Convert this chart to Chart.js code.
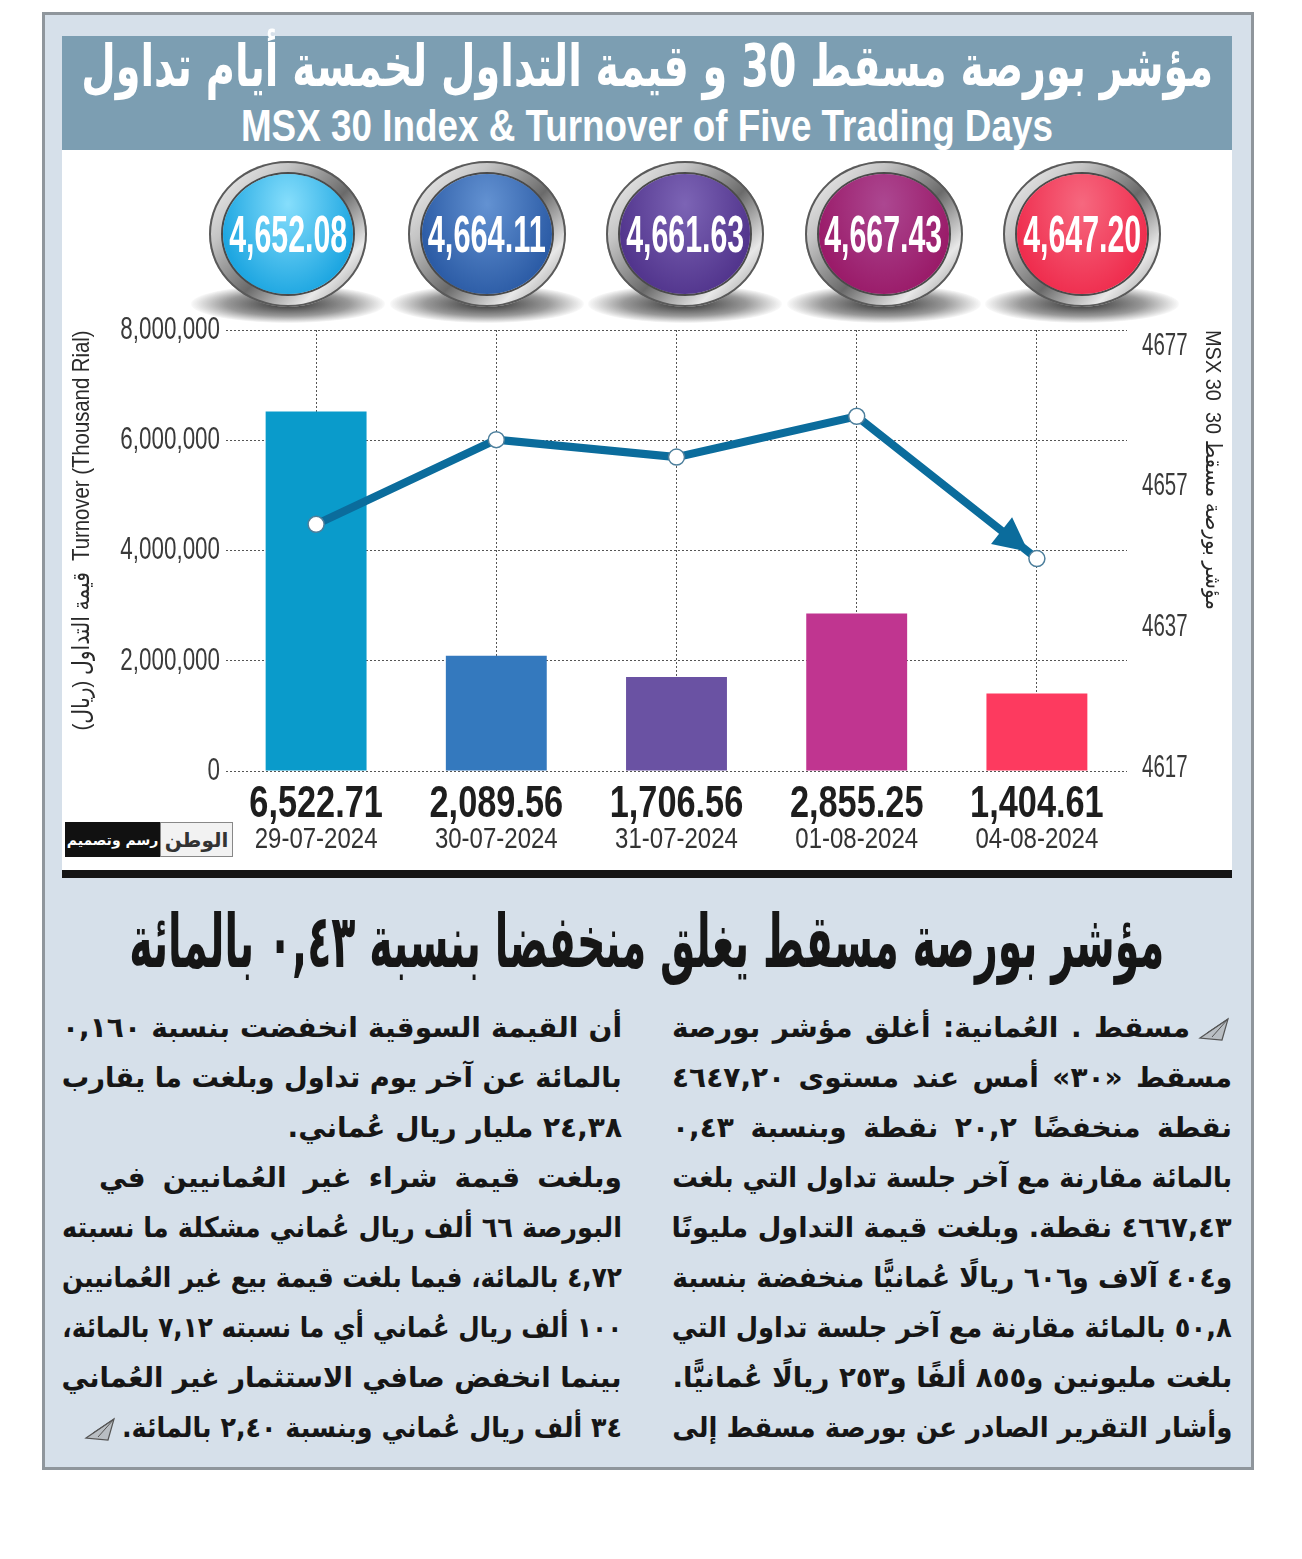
<!DOCTYPE html>
<html lang="ar">
<head>
<meta charset="utf-8">
<title>MSX 30 Index & Turnover of Five Trading Days</title>
<script src="https://cdn.jsdelivr.net/npm/chart.js@4.4.1/dist/chart.umd.min.js"></script>
<style>
  html, body { margin: 0; padding: 0; background: #fff; }
  #page { position: relative; width: 1302px; height: 1559px; overflow: hidden; }
  .abs { position: absolute; }
  #frame { left: 42px; top: 12px; width: 1212px; height: 1458px; box-sizing: border-box;
           border: 3px solid #8f969c; background: #d6e0ea; }
  #header { left: 62px; top: 36px; width: 1170px; height: 114px; background: #7c9eb2; }
  .fit { white-space: nowrap; }
  .fit span { position: absolute; top: 0; display: inline-block; white-space: nowrap; transform-origin: center center; }
  #titleAr { left: 62px; top: 32px; width: 1170px; height: 74px; color: #fff; font: bold 58px "DejaVu Sans", sans-serif; direction: rtl; }
  #titleEn { left: 62px; top: 101px; width: 1170px; height: 50px; color: #fff; font: bold 44px "Liberation Sans", "Arial", sans-serif; }
  #panel { left: 62px; top: 150px; width: 1170px; height: 720px; background: #fff; }
  #blackbar { left: 62px; top: 870px; width: 1170px; height: 8px; background: #151515; }
  .btn { width: 158px; height: 146px; }
  .btn .shadow { position: absolute; left: -18px; top: 124px; width: 194px; height: 38px; border-radius: 50%;
           background: radial-gradient(ellipse at center, rgba(30,30,30,0.9) 0%, rgba(70,70,70,0.55) 45%, rgba(255,255,255,0) 72%); }
  .btn .ring { position: absolute; left: 0; top: 0; width: 158px; height: 146px; border-radius: 50%;
           background: linear-gradient(135deg, #fbfbfb 0%, #c4c4c4 28%, #6a6a6a 55%, #e8e8e8 78%, #7d7d7d 100%);
           box-shadow: inset 0 0 0 2px #5a5a5a; }
  .btn .face { position: absolute; left: 14px; top: 13px; width: 130px; height: 120px; border-radius: 50%;
           box-shadow: 0 0 0 2px #4a4a4a; display: flex; align-items: center; justify-content: center; }
  .btn .face span { display: inline-block; color: #fff; font: bold 52px "Liberation Sans", "Arial", sans-serif;
           white-space: nowrap; }
  #logo { left: 65px; top: 822px; width: 168px; height: 35px; display: flex; }
  #logo .l1 { width: 95px; height: 35px; background: #111; color: #fff; font: bold 14px "DejaVu Sans", sans-serif; white-space: nowrap;
           display: flex; align-items: center; justify-content: center; direction: rtl; }
  #logo .l2 { width: 71px; height: 33px; background: #f2f2f2; border: 1px solid #888; color: #333; white-space: nowrap;
           font: bold 20px "DejaVu Sans", sans-serif; display: flex; align-items: center; justify-content: center; direction: rtl; }
  #headline { left: 62px; top: 898px; width: 1170px; height: 110px; color: #161616; font: bold 74px "DejaVu Sans", sans-serif; direction: rtl; }
  .col { width: 560px; }
  .line { position: absolute; right: 0; height: 50px; line-height: 50px; direction: rtl; text-align: right;
          font: bold 28px "DejaVu Sans", sans-serif; color: #161616; white-space: nowrap; }
  .line span.t { display: inline-block; white-space: nowrap; transform-origin: right center; }
  .icon { display: inline-block; vertical-align: middle; }
</style>
</head>
<body>
<div id="page">
  <div id="frame" class="abs"></div>
  <div id="header" class="abs"></div>
  <div id="titleAr" class="abs fit"><span>مؤشر بورصة مسقط 30 و قيمة التداول لخمسة أيام تداول</span></div>
  <div id="titleEn" class="abs fit"><span>MSX 30 Index &amp; Turnover of Five Trading Days</span></div>
  <div id="panel" class="abs"><canvas id="chartCanvas" width="1170" height="720"></canvas></div>
  <div id="buttons"></div>
  <div id="logo" class="abs"><div class="l1">رسم وتصميم</div><div class="l2">الوطن</div></div>
  <div id="blackbar" class="abs"></div>
  <div id="headline" class="abs fit"><span>مؤشر بورصة مسقط يغلق منخفضا بنسبة ٠,٤٣ بالمائة</span></div>
  <div id="colRight" class="abs col" style="left:672px; top:1011px; height:460px;"></div>
  <div id="colLeft" class="abs col" style="left:62px; top:1011px; height:460px;"></div>
</div>

<script>
// ---- data ----
const dates = ['29-07-2024', '30-07-2024', '31-07-2024', '01-08-2024', '04-08-2024'];
const turnover = [6522.71, 2089.56, 1706.56, 2855.25, 1404.61];      // printed under the bars
const msxIndex = [4652.08, 4664.11, 4661.63, 4667.43, 4647.20];      // values in the buttons / line
const turnoverTicks = [0, 2000000, 4000000, 6000000, 8000000];
const indexTicks = [4617, 4637, 4657, 4677];
const barColors = ['#0a9bcb', '#3479be', '#6a52a3', '#c03590', '#fd3a5f'];
const faceColors = [['#86defc', '#1da6e1'], ['#6392d2', '#2c5ca6'], ['#7c64b5', '#52358d'], ['#ac4791', '#9a1b69'], ['#f6687f', '#ef2d4e']];
const leftTitle = 'قيمة التداول (ريال)  Turnover (Thousand Rial)';
const rightTitle = 'MSX 30  مؤشر بورصة مسقط 30';

const rightLines = [
    { text: 'مسقط . العُمانية: أغلق مؤشر بورصة', mode: 'justify', icon: 'start' },
    { text: 'مسقط «٣٠» أمس عند مستوى ٤٦٤٧,٢٠', mode: 'justify' },
    { text: 'نقطة منخفضًا ٢٠,٢ نقطة وبنسبة ٠,٤٣', mode: 'justify' },
    { text: 'بالمائة مقارنة مع آخر جلسة تداول التي بلغت', mode: 'justify' },
    { text: '٤٦٦٧,٤٣ نقطة. وبلغت قيمة التداول مليونًا', mode: 'justify' },
    { text: 'و٤٠٤ آلاف و٦٠٦ ريالًا عُمانيًّا منخفضة بنسبة', mode: 'justify' },
    { text: '٥٠,٨ بالمائة مقارنة مع آخر جلسة تداول التي', mode: 'justify' },
    { text: 'بلغت مليونين و٨٥٥ ألفًا و٢٥٣ ريالًا عُمانيًّا.', mode: 'justify' },
    { text: 'وأشار التقرير الصادر عن بورصة مسقط إلى', mode: 'justify' }
];
const leftLines = [
    { text: 'أن القيمة السوقية انخفضت بنسبة ٠,١٦٠', mode: 'justify' },
    { text: 'بالمائة عن آخر يوم تداول وبلغت ما يقارب', mode: 'justify' },
    { text: '٢٤,٣٨ مليار ريال عُماني.', mode: 'right' },
    { text: 'وبلغت قيمة شراء غير العُمانيين في', mode: 'justify', indent: 37 },
    { text: 'البورصة ٦٦ ألف ريال عُماني مشكلة ما نسبته', mode: 'justify' },
    { text: '٤,٧٢ بالمائة، فيما بلغت قيمة بيع غير العُمانيين', mode: 'justify' },
    { text: '١٠٠ ألف ريال عُماني أي ما نسبته ٧,١٢ بالمائة،', mode: 'justify' },
    { text: 'بينما انخفض صافي الاستثمار غير العُماني', mode: 'justify' },
    { text: '٣٤ ألف ريال عُماني وبنسبة ٢,٤٠ بالمائة.', mode: 'right', icon: 'end', maxWidth: 500 }
];

const sans = '"Liberation Sans", Arial, "DejaVu Sans", sans-serif';
const lineColor = '#0b6c9c';

const iconSvg = '<svg class="icon" width="34" height="26" viewBox="0 0 34 26"><path d="M2 22 L30 3 L24 24 Z" fill="#b9bec3" stroke="#555" stroke-width="1.2"/><path d="M30 3 L14 21 M30 3 L9 17" stroke="#555" stroke-width="1" fill="none"/></svg>';

// squeeze a one-line block to a given width, centred in its wrapper
const fitSpan = (wrapper, width) => {
    const span = wrapper.querySelector('span');
    const w = span.getBoundingClientRect().width;
    const W = wrapper.getBoundingClientRect().width;
    span.style.left = ((W - w) / 2) + 'px';
    span.style.transform = `scaleX(${width / w})`;
};

const buildLines = (col, lines) => {
    lines.forEach((ln, i) => {
        const div = document.createElement('div');
        div.className = 'line';
        div.style.top = (i * 50) + 'px';
        const indent = ln.indent || 0;
        const iconW = ln.icon === 'start' ? 42 : 0;
        const width = ln.maxWidth || (560 - indent - iconW);
        div.style.width = (560 - indent) + 'px';
        if (ln.icon === 'start') div.insertAdjacentHTML('beforeend', iconSvg + '<span style="display:inline-block;width:8px"></span>');
        const span = document.createElement('span');
        span.className = 't';
        span.textContent = ln.text;
        div.appendChild(span);
        col.appendChild(div);
        const w = span.getBoundingClientRect().width;
        let shown = w;
        if (w > width) {
            span.style.transform = `scaleX(${width / w})`;
            shown = width;
        } else if (ln.mode === 'justify') {
            const gaps = ln.text.split(' ').length - 1;
            span.style.wordSpacing = ((width - w) / gaps) + 'px';
        }
        if (ln.icon === 'end') {
            const ic = document.createElement('span');
            ic.innerHTML = iconSvg;
            ic.style.position = 'absolute';
            ic.style.right = (shown + 4) + 'px';
            ic.style.top = '0';
            div.appendChild(ic);
        }
    });
};

const buildButtons = () => {
    const holder = document.getElementById('buttons');
    msxIndex.forEach((v, i) => {
        const cx = 288 + i * 198.5;
        const b = document.createElement('div');
        b.className = 'btn abs';
        b.style.left = (cx - 79) + 'px';
        b.style.top = '161px';
        const [c1, c2] = faceColors[i];
        b.innerHTML = `<div class="shadow"></div><div class="ring"><div class="face" style="background: radial-gradient(ellipse at 50% 25%, ${c1} 0%, ${c2} 75%);"><span>${v.toLocaleString('en-US', { minimumFractionDigits: 2 })}</span></div></div>`;
        holder.appendChild(b);
        const span = b.querySelector('.face span');
        const w = span.getBoundingClientRect().width;
        span.style.transform = `scaleX(${118 / w})`;
    });
};

// condensed text helper (no narrow font installed, so squeeze horizontally)
const drawText = (ctx, text, x, y, opt) => {
    ctx.save();
    ctx.font = opt.font;
    ctx.fillStyle = opt.color || '#333';
    ctx.textBaseline = 'middle';
    ctx.textAlign = opt.align || 'center';
    ctx.translate(x, y);
    if (opt.rotate) ctx.rotate(opt.rotate);
    let sx = opt.sx || 1;
    if (opt.length) sx = opt.length / ctx.measureText(text).width;
    ctx.scale(sx, 1);
    ctx.fillText(text, 0, 0);
    ctx.restore();
};

const extrasPlugin = {
    id: 'extras',
    afterDatasetsDraw(chart) {
        // arrow head on the last segment of the index line
        const ctx = chart.ctx;
        const pts = chart.getDatasetMeta(1).data;
        const a = pts[pts.length - 2], b = pts[pts.length - 1];
        const dx = b.x - a.x, dy = b.y - a.y;
        const len = Math.hypot(dx, dy);
        const ux = dx / len, uy = dy / len;
        const tipX = b.x - ux * 11, tipY = b.y - uy * 11;
        const baseX = tipX - ux * 34, baseY = tipY - uy * 34;
        ctx.save();
        ctx.fillStyle = lineColor;
        ctx.beginPath();
        ctx.moveTo(tipX, tipY);
        ctx.lineTo(baseX - uy * 17, baseY + ux * 17);
        ctx.lineTo(baseX + uy * 17, baseY - ux * 17);
        ctx.closePath();
        ctx.fill();
        ctx.restore();
    },
    afterDraw(chart) {
        const ctx = chart.ctx;
        const { x: xs, y: ys, y2 } = chart.scales;
        const area = chart.chartArea;

        ys.ticks.forEach(t => {
            drawText(ctx, t.value.toLocaleString('en-US'), area.left - 6, ys.getPixelForValue(t.value),
                { font: `32px ${sans}`, sx: 0.7, align: 'right', color: '#3a3a3a' });
        });
        y2.ticks.forEach(t => {
            drawText(ctx, String(t.value), area.right + 15, y2.getPixelForValue(t.value) - 3,
                { font: `32px ${sans}`, sx: 0.64, align: 'left', color: '#3a3a3a' });
        });
        dates.forEach((d, i) => {
            const cx = xs.getPixelForValue(i);
            drawText(ctx, turnover[i].toLocaleString('en-US', { minimumFractionDigits: 2 }), cx, area.bottom + 34,
                { font: `bold 44px ${sans}`, sx: 0.78, color: '#1e1e1e' });
            drawText(ctx, d, cx, area.bottom + 69, { font: `30px ${sans}`, sx: 0.8, color: '#333' });
        });
        // axis titles
        drawText(ctx, leftTitle, 20, (area.top + area.bottom) / 2 - 20,
            { font: `24px ${sans}`, length: 400, rotate: -Math.PI / 2, color: '#2a2a2a' });
        drawText(ctx, rightTitle, 1150, area.top,
            { font: `22px ${sans}`, length: 280, rotate: Math.PI / 2, align: 'left', color: '#2a2a2a' });
    }
};

document.addEventListener('DOMContentLoaded', () => {
    fitSpan(document.getElementById('titleAr'), 1132);
    fitSpan(document.getElementById('titleEn'), 812);
    fitSpan(document.getElementById('headline'), 1035);
    buildButtons();
    buildLines(document.getElementById('colRight'), rightLines);
    buildLines(document.getElementById('colLeft'), leftLines);

    const chartCanvas = document.getElementById('chartCanvas');
    const dottedGrid = { color: '#555', lineWidth: 1, drawTicks: false };
    const dottedBorder = { display: false, dash: [2, 2] };

    new Chart(chartCanvas, {
        data: {
            labels: dates,
            datasets: [
                {
                    type: 'bar',
                    label: 'Turnover',
                    data: turnover.map(v => v * 1000),
                    backgroundColor: barColors,
                    categoryPercentage: 1,
                    barPercentage: 0.56,
                    yAxisID: 'y',
                    order: 2
                },
                {
                    type: 'line',
                    label: 'MSX 30',
                    data: msxIndex,
                    borderColor: lineColor,
                    borderWidth: 8,
                    pointRadius: 8,
                    pointBackgroundColor: '#fff',
                    pointBorderColor: '#4d7f9c',
                    pointBorderWidth: 1.5,
                    tension: 0,
                    yAxisID: 'y2',
                    order: 1
                }
            ]
        },
        options: {
            responsive: false,
            animation: false,
            layout: { padding: { top: 180, left: 0, right: 0, bottom: 0 } },
            plugins: { legend: { display: false }, tooltip: { enabled: false } },
            scales: {
                x: {
                    offset: true,
                    grid: { ...dottedGrid, offset: false },
                    border: dottedBorder,
                    ticks: { display: false },
                    afterFit: (scale) => { scale.height = 99; }
                },
                y: {
                    position: 'left',
                    min: 0,
                    max: 8000000,
                    grid: dottedGrid,
                    border: dottedBorder,
                    afterBuildTicks: (scale) => { scale.ticks = turnoverTicks.map(v => ({ value: v })); },
                    ticks: { display: false },
                    afterFit: (scale) => { scale.width = 164; }
                },
                y2: {
                    position: 'right',
                    min: 4617,
                    max: 4679.7,
                    grid: { display: false },
                    border: { display: false },
                    afterBuildTicks: (scale) => { scale.ticks = indexTicks.map(v => ({ value: v })); },
                    ticks: { display: false },
                    afterFit: (scale) => { scale.width = 105; }
                }
            }
        },
        plugins: [extrasPlugin]
    });
});
</script>
</body>
</html>
